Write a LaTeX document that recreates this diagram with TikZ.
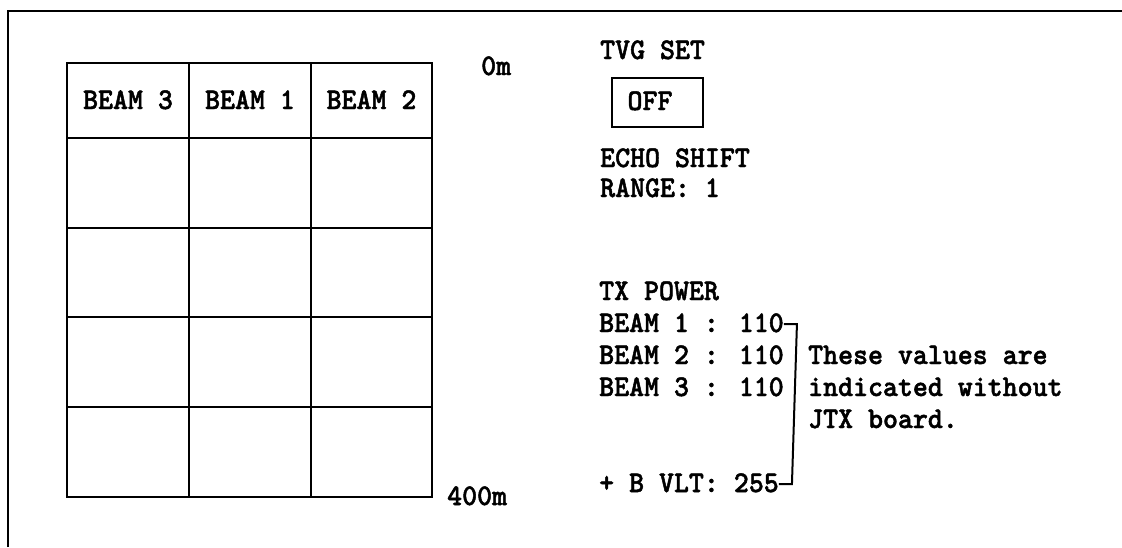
\documentclass[tikz,border=0pt]{standalone}
\usepackage{fontspec}
\newfontfamily\reffont[FakeStretch=0.95,FakeBold=1.6]{lmmonolt10-bold.otf}
\tikzset{
  txt/.style={font=\reffont\fontsize{30}{34}\selectfont, inner sep=0pt, anchor=base west},
  hdr/.style={txt, anchor=base},
  frame/.style={line width=2.5pt},
  gridline/.style={line width=2.6pt},
  brk/.style={line width=2pt}
}
\begin{document}
\begin{tikzpicture}[x=1pt,y=-1pt]
\useasboundingbox (0,0) rectangle (1122,547);
% outer frame (left and top)
\draw[frame] (8,547) -- (8,11) -- (1122,11);
% grid
\draw[gridline] (67,63) rectangle (432,497);
\foreach \x in {189,311} \draw[gridline] (\x,63) -- (\x,497);
\foreach \y in {138,228,317,407} \draw[gridline] (67,\y) -- (432,\y);
% headers
\node[hdr] (h3) at (128,109) {BEAM 3};
\node[hdr] (h1) at (250,109) {BEAM 1};
\node[hdr] (h2) at (371.5,109) {BEAM 2};
\node[txt] (zero) at (481,75) {0m};
\node[txt] (four) at (447,505) {400m};
% right panel
\node[txt] (tvg) at (600,59) {TVG SET};
\node[draw, line width=2pt, minimum width=91pt, minimum height=49pt, inner sep=0pt] (offbox) at (657.5,102.5) {};
\node[hdr] (off) at (650,110) {OFF};
\node[txt] (echo) at (600,167) {ECHO SHIFT};
\node[txt] (range) at (600,197) {RANGE: 1};
\node[txt] (txp) at (599,300) {TX POWER};
\node[txt] (b1) at (599,332) {BEAM 1 : 110};
\node[txt] (b2) at (599,364) {BEAM 2 : 110};
\node[txt] (b3) at (599,396) {BEAM 3 : 110};
\node[txt] (vlt) at (599,492) {+ B VLT: 255};
\node[txt] (n1) at (808,364) {These values are};
\node[txt] (n2) at (808,396) {indicated without};
\node[txt] (n3) at (808,428) {JTX board.};
% bracket
\draw[brk] ([yshift=8pt]b1.base east) -- ++(13,0) coordinate (bt)
  -- ([xshift=13pt, yshift=8pt]vlt.base east) coordinate (bb) -- ([yshift=8pt]vlt.base east);
\end{tikzpicture}
\end{document}
